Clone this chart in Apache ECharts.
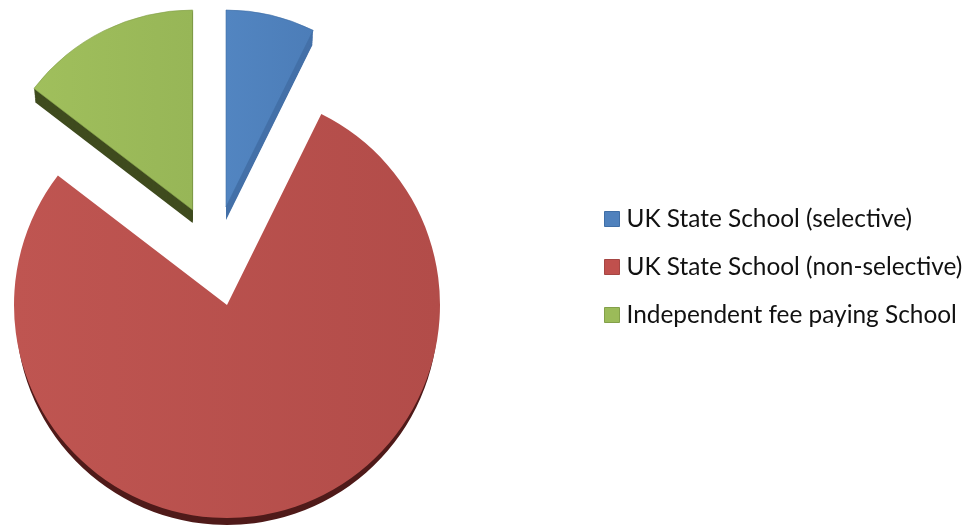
<!DOCTYPE html>
<html><head><meta charset="utf-8"><style>html,body{margin:0;padding:0;background:#fff}#c{width:974px;height:527px}</style>
<script src="https://cdn.jsdelivr.net/npm/echarts@6/dist/echarts.min.js"></script></head>
<body><div id="c"></div><script>
const categories = ['UK State School (selective)','UK State School (non-selective)','Independent fee paying School'];
const values = [7.3, 78.1, 14.6];
const topColors = [
  ['#5285C1','#4C7DB8'],
  ['#BF5551','#B24C49'],
  ['#A0BF5C','#97B657']
];
const sideColors = ['#4470A8','#4F1A19','#3F4B1E'];
const edgeColors = ['#3F6EA6','#A54643','#83A04A'];
const swatchColors = ['#4F81BD','#C0504D','#9BBB59'];

const CLEAR = 'rgba(0,0,0,0)';
const chart = echarts.init(document.getElementById('c'), null, {renderer:'canvas'});
function grad(pair){
  return new echarts.graphic.LinearGradient(0,0,1,0,[{offset:0,color:pair[0]},{offset:1,color:pair[1]}]);
}
function layer(center, r, styleFor){
  return {
    type:'pie', center, radius:[0,r], startAngle:90, clockwise:true, silent:true,
    animation:false, label:{show:false}, labelLine:{show:false}, emphasis:{disabled:true},
    avoidLabelOverlap:false, stillShowZeroSum:false,
    data: categories.map((name,i)=>({name, value:values[i], itemStyle:styleFor(i)}))
  };
}
const only = (k,st)=> i => i===k ? st : {color:CLEAR, borderWidth:0};
// side wall of an exploded slice: the slice repeated at growing depth
function wall(k, cx, cy, r, depth){
  const out = [];
  for (let d = depth; d > 0; d -= 1) {
    out.push(layer([cx, cy + d], r - d * 0.12, only(k, {color:sideColors[k]})));
  }
  return out;
}
const series = [
  layer([227,314],211,only(1,{color:sideColors[1]})),
  layer([227,305],213.5,i=> i===1 ? {color:CLEAR} : {color:'#fff'}),
  layer([227,305],213,only(1,{color:grad(topColors[1])})),
  ...wall(2,192.7,210,200,13),
  layer([192.7,210],200,only(2,{color:grad(topColors[2]),borderColor:edgeColors[2],borderWidth:0.6})),
  ...wall(0,226,207,197,13),
  layer([226,207],197,only(0,{color:grad(topColors[0]),borderColor:edgeColors[0],borderWidth:0.6}))
];
chart.setOption({
  backgroundColor:'#fff',
  animation:false,
  legend:{
    orient:'vertical', left:604, top:207, padding:0, selectedMode:false,
    itemWidth:15, itemHeight:15, itemGap:24,
    icon:'rect',
    textStyle:{fontFamily:'Lato',fontSize:24.4,color:'#111',padding:[0,0,0,2],height:24,lineHeight:24},
    data:categories.map((name,i)=>({name,icon:'rect',itemStyle:{color:swatchColors[i],borderColor:edgeColors[i],borderWidth:1}}))
  },
  series
});
</script></body></html>
